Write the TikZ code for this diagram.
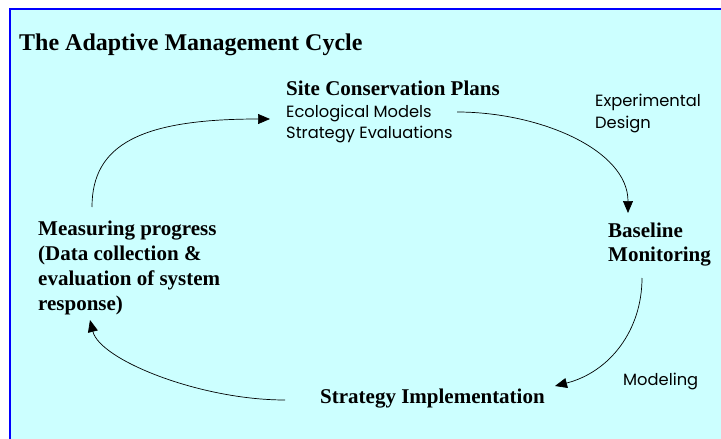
\documentclass[tikz,border=0pt]{standalone}
\usepackage{fontspec}
\setmainfont{Liberation Serif}
\newfontfamily\gothic{Poppins}
\usetikzlibrary{arrows.meta}
\definecolor{panelcyan}{HTML}{CCFFFF}
\definecolor{panelblue}{HTML}{0000FF}

\begin{document}
\begin{tikzpicture}[
		x=1pt,y=-1pt,
		every node/.style={inner sep=0pt,anchor=base west},
		titletext/.style={font=\bfseries\fontsize{24}{28}\selectfont},
		stagetext/.style={font=\bfseries\fontsize{21}{25}\selectfont,align=left},
		notetext/.style={font=\gothic\fontsize{16.3}{21}\selectfont,align=left},
		cycarrow/.style={-{Triangle[length=12pt,width=10pt]},line width=0.7pt}
		]
		\useasboundingbox (0,0) rectangle (721,439);
		\clip (0,0) rectangle (721,439);
		\fill[panelcyan] (10,9) rectangle (740,460);
		\draw[panelblue,line width=2pt] (10,9) rectangle (740,460);

		\node[titletext] (title) at (19,50) {The Adaptive Management Cycle};
		\node[stagetext] (site) at (286,95) {Site Conservation Plans};
		\node[notetext] (models) at (286,138) {Ecological Models\\Strategy Evaluations};
		\node[notetext,font=\gothic\fontsize{16.3}{22}\selectfont] (design) at (595,128) {Experimental\\Design};
		\node[stagetext,font=\bfseries\fontsize{21}{24}\selectfont] (baseline) at (608,261) {Baseline\\Monitoring};
		\node[notetext] (modeling) at (623,385) {Modeling};
		\node[stagetext] (implement) at (320,403) {Strategy Implementation};
		\node[stagetext] (measure) at (38,310) {Measuring progress\\(Data collection \&\\evaluation of system\\response)};

		\coordinate (measureout) at (92,207);
		\coordinate (sitein) at (270,119);
		\coordinate (siteout) at (457,112);
		\coordinate (basein) at (628,213);
		\coordinate (baseout) at (642,278);
		\coordinate (implin) at (555,386);
		\coordinate (implout) at (285,400);
		\coordinate (measurein) at (90,320);

		\draw[cycarrow] (measureout) .. controls (92,145) and (140,119) .. (sitein);
		\draw[cycarrow] (siteout) .. controls (540,112) and (628,150) .. (basein);
		\draw[cycarrow] (baseout) .. controls (642,330) and (610,372) .. (implin);
		\draw[cycarrow] (implout) .. controls (200,400) and (100,360) .. (measurein);
	\end{tikzpicture}
\end{document}
